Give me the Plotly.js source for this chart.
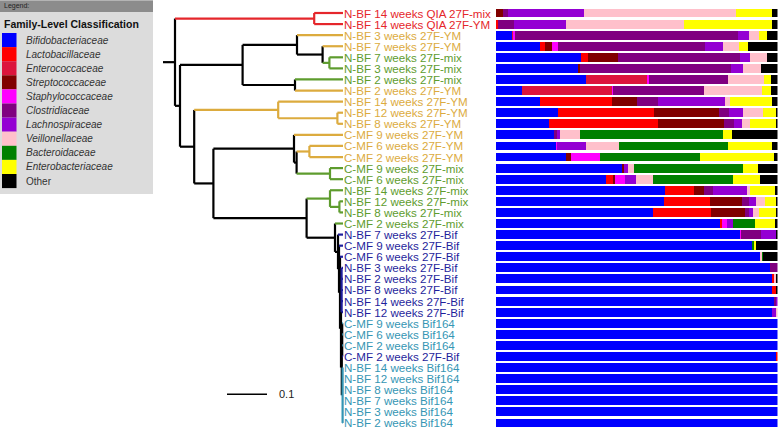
<!DOCTYPE html>
<html>
<head>
<meta charset="utf-8">
<script src="https://cdn.plot.ly/plotly-3.0.1.min.js"></script>
<style>html,body{margin:0;padding:0;background:#fff;}#chart{width:778px;height:431px;}</style>
</head>
<body>
<div id="chart"></div>
<script>
// ---------- DATA ----------
const leafLabels = [
  'N-BF 14 weeks QIA 27F-mix','N-BF 14 weeks QIA 27F-YM','N-BF 3 weeks 27F-YM','N-BF 7 weeks 27F-YM',
  'N-BF 7 weeks 27F-mix','N-BF 3 weeks 27F-mix','N-BF 2 weeks 27F-mix','N-BF 2 weeks 27F-YM',
  'N-BF 14 weeks 27F-YM','N-BF 12 weeks 27F-YM','N-BF 8 weeks 27F-YM','C-MF 9 weeks 27F-YM',
  'C-MF 6 weeks 27F-YM','C-MF 2 weeks 27F-YM','C-MF 9 weeks 27F-mix','C-MF 6 weeks 27F-mix',
  'N-BF 14 weeks 27F-mix','N-BF 12 weeks 27F-mix','N-BF 8 weeks 27F-mix','C-MF 2 weeks 27F-mix',
  'N-BF 7 weeks 27F-Bif','C-MF 9 weeks 27F-Bif','C-MF 6 weeks 27F-Bif','N-BF 3 weeks 27F-Bif',
  'N-BF 2 weeks 27F-Bif','N-BF 8 weeks 27F-Bif','N-BF 14 weeks 27F-Bif','N-BF 12 weeks 27F-Bif',
  'C-MF 9 weeks Bif164','C-MF 6 weeks Bif164','C-MF 2 weeks Bif164','C-MF 2 weeks 27F-Bif',
  'N-BF 14 weeks Bif164','N-BF 12 weeks Bif164','N-BF 8 weeks Bif164','N-BF 7 weeks Bif164',
  'N-BF 3 weeks Bif164','N-BF 2 weeks Bif164'
];
const leafGroup = ['QIA','QIA','YM','YM','mix','mix','mix','YM','YM','YM','YM','YM','YM','YM',
  'mix','mix','mix','mix','mix','mix','Bif','Bif','Bif','Bif','Bif','Bif','Bif','Bif',
  'Bif164','Bif164','Bif164','Bif','Bif164','Bif164','Bif164','Bif164','Bif164','Bif164'];
const groupNames  = ['QIA','YM','mix','Bif','Bif164'];
const groupColors = ['#e5262b','#dcab3e','#5e9c2e','#1f1f9c','#3596b4'];

// tree: internal nodes, their depth (distance from root) and children (row numbers or node ids)
const nodeIds   = ['root','red','C','D','F','H','I','G','E','J','L','K','M','O','P','Q','N','R','T','S','U','U2','U3','U4','B1','B2','B3','B4'];
const nodeDepth = [0,0.348,0.0125,0.169,0.305,0.369,0.386,0.300,0.048,0.258,0.406,0.096,0.2975,0.304,0.336,0.3875,0.329,0.3875,0.411,0.400,0.4075,0.410,0.4125,0.415,0.4165,0.417,0.418,0.419];
const nodeKids  = [
  ['red','C'],[1,2],['D','E'],['F','G'],[3,'H'],[4,'I'],[5,6],[7,8],['J','K'],[9,'L'],[10,11],
  ['M','N'],[12,'O'],['P','Q'],[13,14],[15,16],['R','S'],[17,'T'],[18,19],[20,'U'],[21,'U2'],
  [22,'U3'],[23,'U4'],['B1','B2'],[24,25,26,27,28],['B3','B4'],[29,30,31,32],[33,34,35,36,37,38]
];
const tipDepth = 0.42;
const rootStub = -0.03;
const scaleLen = 0.1, scaleStart = 0.13, scaleRow = 35.4;

// family composition (% of reads), one value per row
const families = ['Bifidobacteriaceae','Lactobacillaceae','Enterococcaceae','Streptococcaceae','Staphylococcaceae',
  'Clostridiaceae','Lachnospiraceae','Veillonellaceae','Bacteroidaceae','Enterobacteriaceae','Other'];
const familyColors = ['#0000ff','#ff0000','#dc143c','#800000','#ff00ff','#800080','#9400d3','#ffc0cb','#008000','#ffff00','#000000'];
const bifido  = [0,0,5.6,15.6,30.2,29.3,31.9,9.1,15.6,22.2,19.0,20.6,21.2,24.9,44.9,39.1,60.1,59.7,55.7,79.6,86.5,91.1,93.8,97.4,98.0,98.0,98.6,98.2,100,100,100,99.6,100,100,100,100,100,100];
const lacto   = [0,0.7,0,1.8,2.4,0,0,0,25.7,34.0,38.7,0,0,0,0,2.3,10.1,16.4,20.7,0.8,0,0,0,0,0.6,1.4,0,0,0,0,0,0.4,0,0,0,0,0,0];
const enteroc = [0,0,0.6,0,0,0,21.7,32.0,0,0,0,0,0,0,0,0,0,0,0,0,0,0,0,0,0,0,0,0,0,0,0,0,0,0,0,0,0,0];
const strep   = [2.4,0,0,2.4,10.7,0.6,0,0,8.9,22.9,23.3,0,0,1.8,0.6,0.9,3.8,11.3,12.1,0,0,0,0,0,0,0,0,0,0,0,0,0,0,0,0,0,0,0];
const staph   = [0,0,0.6,2.4,0,0,0.7,0.6,0,0,0,0,0.4,10.3,0,3.6,0,0,0,1.8,0.5,0,0,0,0,0,0,0,0,0,0,0,0,0,0,0,0,0];
const clos    = [2.0,5.7,79.0,51.9,43.2,53.7,28.0,32.2,7.5,3.6,3.6,1.0,0,0,0,0,3.0,2.4,1.5,0,7.1,0,0,2.6,0,0,0.7,0,0,0,0,0,0,0,0,0,0,0];
const lachno  = [26.7,18.5,4.0,6.5,3.8,4.0,0,0,23.5,5.1,2.7,1.3,10.4,0,1.5,3.8,12.0,2.6,1.4,2.1,5.3,0,0,0,0,0,0.7,1.2,0,0,0,0,0,0,0,0,0,0];
const veil    = [54.3,42.0,3.7,5.6,5.9,6.6,13.0,20.5,2.0,7.0,3.0,6.9,11.8,0,2.1,5.9,1.4,3.0,2.1,0,0,0,0.6,0,0.7,0,0,0.6,0,0,0,0,0,0,0,0,0,0];
const bact    = [0,0,0,0,0,0,0,0,0,0,0,50.9,38.7,35.3,38.5,28.6,0,0,0,7.7,0,0.6,0.6,0,0,0,0,0,0,0,0,0,0,0,0,0,0,0];
const enterob = [12.7,31.1,2.8,3.2,0,0,2.4,3.2,15.0,4.7,9.1,3.3,15.4,26.3,5.6,9.7,8.6,4.1,5.8,7.1,0,0.6,0,0,0,0,0,0,0,0,0,0,0,0,0,0,0,0];
const other   = [1.9,2.0,3.7,10.6,3.8,5.8,2.3,2.4,1.8,0.5,0.6,16.0,2.1,1.4,6.8,6.1,1.0,0.5,0.7,0.9,0.6,7.7,5.0,0,0.7,0.6,0,0,0,0,0,0,0,0,0,0,0,0];
const familyValues = [bifido,lacto,enteroc,strep,staph,clos,lachno,veil,bact,enterob,other];

// ---------- BUILD ----------
const W = 778, H = 431;
const PX = p => p / W, PY = p => 1 - p / H;
const rows = leafLabels.map((_, i) => i + 1);
const leafColor = r => groupColors[groupNames.indexOf(leafGroup[r - 1])];
const idx = id => nodeIds.indexOf(id);

function yOf(k) {
  if (typeof k === 'number') return k;
  const kids = nodeKids[idx(k)];
  return (yOf(kids[0]) + yOf(kids[kids.length - 1])) / 2;
}
function leavesOf(k) {
  if (typeof k === 'number') return [k];
  return nodeKids[idx(k)].flatMap(leavesOf);
}
function colorOf(k) {
  const cs = [...new Set(leavesOf(k).map(leafColor))];
  return cs.length === 1 ? cs[0] : '#000000';
}
function depthOf(k) { return typeof k === 'number' ? tipDepth : nodeDepth[idx(k)]; }

const segs = {}; // color -> {x:[],y:[]}
function addSeg(color, x0, y0, x1, y1) {
  if (!segs[color]) segs[color] = {x: [], y: []};
  segs[color].x.push(x0, x1, null);
  segs[color].y.push(y0, y1, null);
}
nodeIds.forEach((id, i) => {
  const d = nodeDepth[i], kids = nodeKids[i];
  addSeg(colorOf(id), d, yOf(kids[0]), d, yOf(kids[kids.length - 1]));
  kids.forEach(k => addSeg(colorOf(k), d, yOf(k), depthOf(k), yOf(k)));
});
addSeg('#000000', rootStub, yOf('root'), 0, yOf('root'));

const traces = [];
Object.keys(segs).forEach(c => {
  traces.push({type: 'scatter', mode: 'lines', x: segs[c].x, y: segs[c].y, xaxis: 'x', yaxis: 'y',
    line: {color: c, width: 2.2}, hoverinfo: 'skip', showlegend: false});
});
// scale bar
traces.push({type: 'scatter', mode: 'lines', x: [scaleStart, scaleStart + scaleLen], y: [scaleRow, scaleRow],
  xaxis: 'x', yaxis: 'y', line: {color: '#000', width: 1.5}, hoverinfo: 'skip', showlegend: false});

// stacked bars
families.forEach((f, i) => {
  traces.push({type: 'bar', orientation: 'h', name: f, x: familyValues[i], y: rows, xaxis: 'x2', yaxis: 'y',
    marker: {color: familyColors[i], line: {width: 0}}, hoverinfo: 'skip', showlegend: false});
});

const FONT = 'Liberation Sans, Arial, sans-serif';
const annotations = leafLabels.map((t, i) => ({
  x: tipDepth, y: i + 1, xref: 'x', yref: 'y', text: t, showarrow: false, xanchor: 'left', yanchor: 'middle',
  xshift: 0, borderpad: 0, font: {family: FONT, size: 11.6, color: leafColor(i + 1)}
}));
annotations.push({x: scaleStart + scaleLen, y: scaleRow, xref: 'x', yref: 'y', text: '0.1', showarrow: false,
  xanchor: 'left', yanchor: 'middle', xshift: 10, font: {family: FONT, size: 11, color: '#222'}});

// legend panel
const shapes = [
  {type: 'rect', xref: 'paper', yref: 'paper', x0: PX(0), x1: PX(153), y0: PY(194), y1: PY(0), fillcolor: '#dcdcdc', line: {width: 0}, layer: 'below'},
  {type: 'rect', xref: 'paper', yref: 'paper', x0: PX(0), x1: PX(153), y0: PY(12), y1: PY(0.5), fillcolor: '#8c8c8c', line: {width: 0}, layer: 'below'}
];
annotations.push({xref: 'paper', yref: 'paper', x: PX(2), y: PY(6.5), text: 'Legend:', showarrow: false, xanchor: 'left', yanchor: 'middle',
  font: {family: FONT, size: 7, color: '#222'}});
annotations.push({xref: 'paper', yref: 'paper', x: PX(2), y: PY(24.5), text: '<b>Family-Level Classification</b>', showarrow: false,
  xanchor: 'left', yanchor: 'middle', font: {family: FONT, size: 10.5, color: '#111'}});
const swTop = 33, swH = 14.1;
families.forEach((f, i) => {
  shapes.push({type: 'rect', xref: 'paper', yref: 'paper', x0: PX(2), x1: PX(16.5), y0: PY(swTop + swH * (i + 1)), y1: PY(swTop + swH * i),
    fillcolor: familyColors[i], line: {width: 0}});
  annotations.push({xref: 'paper', yref: 'paper', x: PX(24), y: PY(swTop + swH * i + swH / 2), showarrow: false,
    text: f === 'Other' ? f : '<i>' + f + '</i>', xanchor: 'left', yanchor: 'middle', font: {family: FONT, size: 10, color: '#333'}});
});

const hidden = {showgrid: false, zeroline: false, showticklabels: false, ticks: '', showline: false, fixedrange: true};
const layout = {
  width: W, height: H, margin: {l: 0, r: 0, t: 0, b: 0, pad: 0},
  paper_bgcolor: '#ffffff', plot_bgcolor: 'rgba(0,0,0,0)',
  barmode: 'stack', bargap: 0.2, showlegend: false,
  xaxis: Object.assign({domain: [0, 496 / W], range: [-0.4375, 0.8025]}, hidden),
  xaxis2: Object.assign({domain: [496 / W, 777.5 / W], range: [0, 100], anchor: 'y'}, hidden),
  yaxis: Object.assign({range: [38.727, -0.173]}, hidden),
  shapes: shapes, annotations: annotations
};
Plotly.newPlot('chart', traces, layout, {displayModeBar: false, staticPlot: true});
</script>
</body>
</html>
